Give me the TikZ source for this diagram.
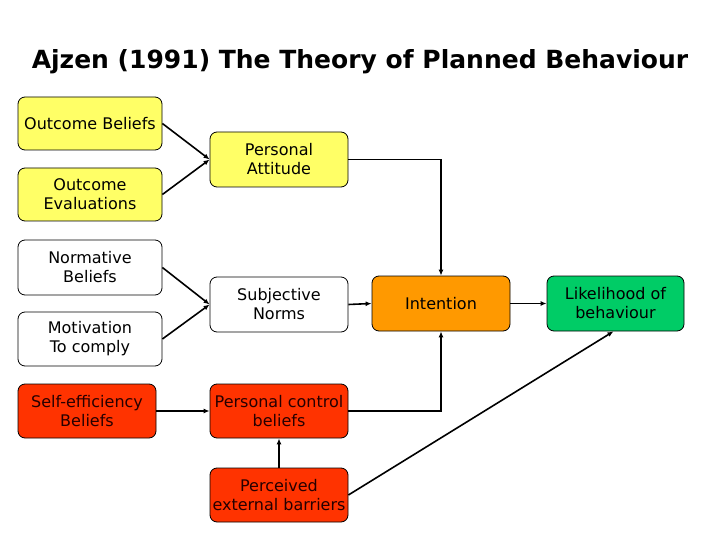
\documentclass[tikz,border=0pt]{standalone}
\usepackage{fontspec}
\setmainfont{DejaVu Sans}
\usetikzlibrary{arrows.meta}
\definecolor{byel}{HTML}{FFFF66}
\definecolor{bred}{HTML}{FF3300}
\definecolor{bora}{HTML}{FF9900}
\definecolor{bgrn}{HTML}{00CC66}
\begin{document}
\begin{tikzpicture}[x=1pt,y=-1pt,
  box/.style={draw=black, line width=0.8pt, rounded corners=7pt, align=center,
    font=\fontsize{16}{19}\selectfont, inner sep=0pt},
  wbox/.style={box, fill=white},
  ybox/.style={box, fill=byel},
  rbox/.style={box, fill=bred, text=black!85!red},
  arr/.style={line width=1.6pt, -{Latex[length=6pt,width=5pt]}}]
\useasboundingbox (0,0) rectangle (720,540);
\node[font=\fontsize{25}{30}\selectfont\bfseries] (title) at (360,62) {Ajzen (1991) The Theory of Planned Behaviour};
\node[ybox, minimum width=144, minimum height=53] (ob) at (90,123.5) {Outcome Beliefs};
\node[ybox, minimum width=144, minimum height=53] (oe) at (90,194.5) {Outcome\\Evaluations};
\node[ybox, minimum width=138, minimum height=55] (pa) at (279,159.5) {Personal\\Attitude};
\node[wbox, minimum width=144, minimum height=55] (nb) at (90,267.5) {Normative\\Beliefs};
\node[wbox, minimum width=144, minimum height=54] (mc) at (90,339) {Motivation\\To comply};
\node[wbox, minimum width=138, minimum height=55] (sn) at (279,304.5) {Subjective\\Norms};
\node[rbox, minimum width=138, minimum height=54] (se) at (87,411) {Self-efficiency\\Beliefs};
\node[rbox, minimum width=138, minimum height=54] (pc) at (279,411) {Personal control\\beliefs};
\node[rbox, minimum width=138, minimum height=54] (pb) at (279,495) {Perceived\\external barriers};
\node[box, fill=bora, minimum width=138, minimum height=55] (in) at (441,303.5) {Intention};
\node[box, fill=bgrn, minimum width=137, minimum height=55] (lb) at (615.5,303.5) {Likelihood of\\behaviour};
\draw[arr] (ob.east) -- (pa.west);
\draw[arr] (oe.east) -- (pa.west);
\draw[arr] (nb.east) -- (sn.west);
\draw[arr] (mc.east) -- (sn.west);
\draw[arr] (pa.east) -| (in.north);
\draw[arr] (sn.east) -- (in.west);
\draw[arr] (pc.east) -| (in.south);
\draw[arr] (in.east) -- (lb.west);
\draw[arr] (se.east) -- (pc.west);
\draw[arr] (pb.north) -- (pc.south);
\draw[arr] (pb.east) -- ([xshift=-2pt]lb.south);
\end{tikzpicture}
\end{document}
